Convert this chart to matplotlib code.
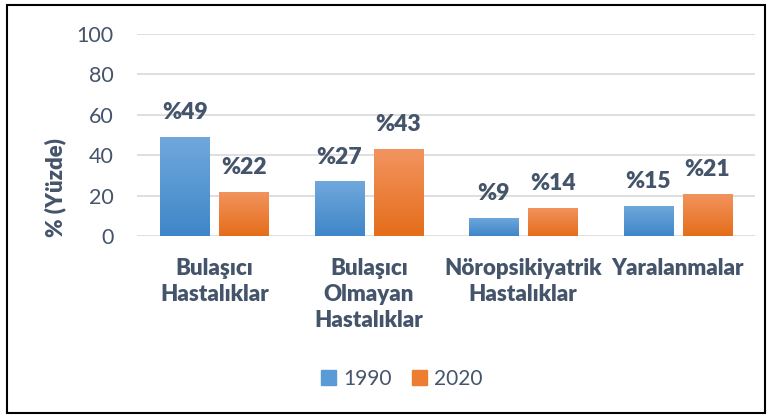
import numpy as np
import matplotlib
matplotlib.use("Agg")
import matplotlib.pyplot as plt
from matplotlib.patches import Rectangle
from matplotlib.colors import LinearSegmentedColormap

categories = ["Bulaşıcı\nHastalıklar", "Bulaşıcı\nOlmayan\nHastalıklar",
              "Nöropsikiyatrik\nHastalıklar", "Yaralanmalar"]
years = ["1990", "2020"]
vals_1990 = [49, 27, 9, 15]
vals_2020 = [22, 43, 14, 21]

plt.rcParams['font.family'] = ['Lato', 'DejaVu Sans']
txt = "#44546a"

fig = plt.figure(figsize=(7.71, 4.18), dpi=100)
ax = fig.add_axes([137 / 771, 1 - 236 / 418, 618 / 771, 202 / 418])

x = np.arange(len(categories))
w = 0.318
off = 0.19

grads = [("#70a8dc", "#3f86c8"), ("#f29460", "#e56d1a")]
grad = np.linspace(0, 1, 256).reshape(-1, 1)

for vals, dx, (top, bot) in zip([vals_1990, vals_2020], [-off, off], grads):
    cmap = LinearSegmentedColormap.from_list("g", [bot, top])
    bars = ax.bar(x + dx, vals, w, color=top, zorder=2)
    for b, v in zip(bars, vals):
        im = ax.imshow(grad, cmap=cmap, aspect='auto', origin='lower',
                       extent=[b.get_x(), b.get_x() + b.get_width(), 0, v], zorder=3)
        im.set_clip_path(b)
        ax.annotate(f"%{v}", (b.get_x() + b.get_width() / 2, v), xytext=(0, 10),
                    textcoords="offset points", ha='center', va='bottom',
                    fontsize=16.5, fontweight='heavy', color=txt)

ax.set_xlim(-0.5, 3.5)
ax.set_ylim(0, 100)
ax.set_yticks(range(0, 101, 20))
ax.set_xticks(x)
ax.set_xticklabels(categories, fontsize=16, fontweight='heavy', color=txt, linespacing=1.3)
ax.tick_params(axis='y', labelsize=15.5, colors=txt, length=0, pad=17)
ax.tick_params(axis='x', length=0, pad=16)
ax.grid(axis='y', color='#d9d9d9', linewidth=1.2, zorder=0)
ax.set_axisbelow(True)
for s in ax.spines.values():
    s.set_visible(False)
ax.set_ylabel("% (Yüzde)", fontsize=16, fontweight='heavy', color=txt, va='center')
ax.yaxis.set_label_coords(-0.133, 0.24)

# legend
handles = [Rectangle((0, 0), 1, 1, color="#5b9bd5"), Rectangle((0, 0), 1, 1, color="#ed7d31")]
fig.legend(handles, years, loc='center', bbox_to_anchor=(402 / 771, 1 - 379 / 418), ncol=2,
           frameon=False, fontsize=15, labelcolor=txt, handlelength=0.7, handleheight=0.7,
           handletextpad=0.35, columnspacing=1.0)

# outer border
fig.patches.append(Rectangle((7 / 771, 5 / 418), 758 / 771, 408 / 418, transform=fig.transFigure,
                             fill=False, edgecolor='black', linewidth=1.5))

fig.savefig("out.png", dpi=100)
